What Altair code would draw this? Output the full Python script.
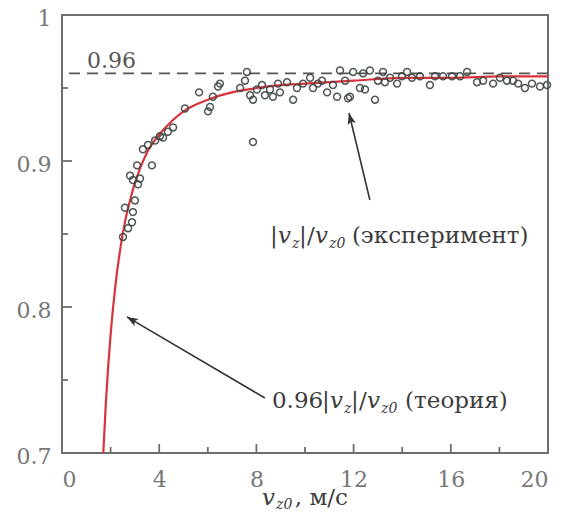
import altair as alt
import pandas as pd

# ---------------- data ----------------
x_exp = [2.51, 2.59, 2.88, 2.72, 2.92, 3.00, 2.80, 2.92, 3.13, 3.21, 3.09, 3.70, 3.33, 3.54,
         3.83, 4.03, 4.16, 4.36, 4.57, 5.06, 5.64, 6.09, 6.01, 6.21, 6.42, 6.50, 7.33, 7.53,
         7.61, 7.74, 7.86, 8.02, 7.86, 8.23, 8.35, 8.56, 8.68, 8.89, 8.97, 9.26, 9.51, 9.67,
         9.92, 10.21, 10.33, 10.53, 10.70, 10.91, 11.15, 11.32, 11.44, 11.65, 11.77, 11.85,
         11.98, 12.26, 12.39, 12.47, 12.67, 12.88, 13.00, 13.21, 13.29, 13.50, 13.79, 13.99,
         14.20, 14.40, 14.73, 15.14, 15.35, 15.68, 16.05, 16.38, 16.67, 17.08, 17.33, 17.74,
         18.02, 18.31, 18.56, 18.77, 19.05, 19.34, 19.67, 19.96]
y_exp = [0.848, 0.868, 0.858, 0.854, 0.865, 0.873, 0.890, 0.887, 0.884, 0.888, 0.897, 0.897,
         0.908, 0.911, 0.914, 0.917, 0.916, 0.920, 0.923, 0.936, 0.947, 0.937, 0.934, 0.944,
         0.951, 0.953, 0.950, 0.955, 0.961, 0.945, 0.942, 0.949, 0.913, 0.952, 0.945, 0.949,
         0.944, 0.953, 0.947, 0.954, 0.942, 0.950, 0.953, 0.957, 0.950, 0.953, 0.955, 0.947,
         0.952, 0.944, 0.962, 0.955, 0.943, 0.944, 0.961, 0.950, 0.960, 0.949, 0.962, 0.942,
         0.955, 0.961, 0.954, 0.957, 0.953, 0.958, 0.961, 0.957, 0.958, 0.952, 0.958, 0.958,
         0.958, 0.958, 0.961, 0.954, 0.955, 0.953, 0.957, 0.955, 0.955, 0.953, 0.950, 0.953,
         0.951, 0.952]

x_theory = [1.70, 1.80, 1.90, 2.00, 2.20, 2.40, 2.60, 2.80, 3.00, 3.50, 4.00, 4.50, 5.00,
            6.00, 7.00, 8.00, 9.00, 10.0, 12.0, 14.0, 16.0, 18.0, 20.0]
y_theory = [0.700, 0.733, 0.759, 0.781, 0.815, 0.840, 0.859, 0.873, 0.885, 0.906, 0.918,
            0.927, 0.934, 0.942, 0.947, 0.950, 0.952, 0.953, 0.955, 0.957, 0.957, 0.958, 0.958]

ref_level = [0.96]

x_tick_labels = [0, 4, 8, 12, 16, 20]
y_tick_labels = [0.7, 0.8, 0.9, 1.0]
x_major = [4, 8, 12, 16]
x_minor = [2, 6, 10, 14, 18]
y_major = [0.8, 0.9]
y_minor = [0.75, 0.85, 0.95]

# annotation pieces (text, x, y in data units)
ann_t = ["|", "|", "/", "(эксперимент)",
         "0.96", "|", "|", "/", "(теория)"]
ann_x = [8.56, 9.75, 10.08, 11.93,
         8.64, 10.70, 11.89, 12.22, 14.12]
ann_y = [0.8438, 0.8438, 0.8438, 0.8438,
         0.7308, 0.7308, 0.7308, 0.7308, 0.7308]
ref_t = ["0.96"]
ref_x = [1.03]
ref_y = [0.9637]
title_t = [", м/с"]
title_x = [9.58]
title_y = [0.6644]
ital_t = ["v", "v", "v", "v", "v"]
ital_x = [8.89, 10.41, 11.03, 12.55, 8.23]
ital_y = [0.8438, 0.8438, 0.7308, 0.7308, 0.6644]
sub_t = ["z", "z0", "z", "z0", "z0"]
sub_x = [9.47, 10.99, 11.60, 13.13, 8.81]
sub_y = [0.8404, 0.8404, 0.7274, 0.7274, 0.6616]

# arrows: tail -> tip
arr_x = [12.67, 8.35]
arr_y = [0.8733, 0.7377]
arr_x2 = [11.81, 2.67]
arr_y2 = [0.9329, 0.7932]
arr_angle = [346, 300]

FONT = "DejaVu Serif"
GRAY = "#6e6e6e"
TXT = "#3c3c3c"

xs = alt.Scale(domain=[0, 20], nice=False, zero=False)
ys = alt.Scale(domain=[0.7, 1.0], nice=False, zero=False)

exp_df = pd.DataFrame({"x": x_exp, "y": y_exp})
th_df = pd.DataFrame({"x": x_theory, "y": y_theory})

base_x = alt.X("x:Q", scale=xs,
               axis=alt.Axis(values=x_tick_labels, format="d", title=None, tickSize=0,
                             domain=False, grid=False, labelFont=FONT, labelFontSize=22,
                             labelColor="#777777", labelPadding=16))
base_y = alt.Y("y:Q", scale=ys,
               axis=alt.Axis(values=y_tick_labels, format="~g", title=None, tickSize=0,
                             domain=False, grid=False, labelFont=FONT, labelFontSize=22,
                             labelColor="#777777", labelPadding=11,
                             labelBaseline="alphabetic", labelOffset=10))

points = alt.Chart(exp_df).mark_point(shape="circle", filled=False, size=48,
                                      strokeWidth=1.5, color="#3d4743", opacity=0.9).encode(
    x=base_x, y=base_y)

curve = alt.Chart(th_df).mark_line(color="#d8333d", strokeWidth=2.2, interpolate="monotone",
                                   clip=True).encode(x=alt.X("x:Q", scale=xs),
                                                     y=alt.Y("y:Q", scale=ys))

ref_df = pd.DataFrame({"y": ref_level})
dash = alt.Chart(ref_df).mark_rule(color="#555555", strokeWidth=1.8,
                                   strokeDash=[11, 7]).encode(y=alt.Y("y:Q", scale=ys))


def ticks_x(vals, length):
    return alt.Chart(pd.DataFrame({"x": vals})).mark_rule(color=GRAY, strokeWidth=1.8).encode(
        x=alt.X("x:Q", scale=xs), y=alt.value(438), y2=alt.value(438 - length))


def ticks_y(vals, length):
    return alt.Chart(pd.DataFrame({"y": vals})).mark_rule(color=GRAY, strokeWidth=1.8).encode(
        y=alt.Y("y:Q", scale=ys), x=alt.value(0), x2=alt.value(length))


def texts(t, x, y, size, style="normal", color=TXT):
    df = pd.DataFrame({"t": t, "x": x, "y": y})
    return alt.Chart(df).mark_text(align="left", baseline="alphabetic", font=FONT,
                                   fontSize=size, fontStyle=style, color=color).encode(
        x=alt.X("x:Q", scale=xs), y=alt.Y("y:Q", scale=ys), text="t:N")


arr_df = pd.DataFrame({"x": arr_x, "y": arr_y, "x2": arr_x2, "y2": arr_y2})
arr_lines = alt.Chart(arr_df).mark_rule(color="#333333", strokeWidth=1.6).encode(
    x=alt.X("x:Q", scale=xs), y=alt.Y("y:Q", scale=ys), x2="x2:Q", y2="y2:Q")
head_df = pd.DataFrame({"x": arr_x2, "y": arr_y2, "a": arr_angle})
arr_heads = alt.Chart(head_df).mark_point(
    shape="M0,0 L-0.55,1.5 L0,1.15 L0.55,1.5 Z", filled=True, size=230,
    color="#333333", opacity=1).encode(
    x=alt.X("x:Q", scale=xs), y=alt.Y("y:Q", scale=ys),
    angle=alt.Angle("a:Q", scale=None))

chart = alt.layer(
    dash, curve, points,
    ticks_x(x_major, 9), ticks_x(x_minor, 6), ticks_y(y_major, 10), ticks_y(y_minor, 6),
    arr_lines, arr_heads,
    texts(ann_t, ann_x, ann_y, 23),
    texts(title_t, title_x, title_y, 23),
    texts(ref_t, ref_x, ref_y, 22, color="#555555"),
    texts(ital_t, ital_x, ital_y, 23, "italic"),
    texts(sub_t, sub_x, sub_y, 14, "italic"),
).properties(
    width=486, height=438,
    autosize=alt.AutoSizeParams(type="none"),
    padding={"left": 54, "top": 7, "right": 14, "bottom": 61},
).configure_view(stroke=GRAY, strokeWidth=2)

chart.save("out.html", embed_options={"renderer": "svg", "actions": False})
